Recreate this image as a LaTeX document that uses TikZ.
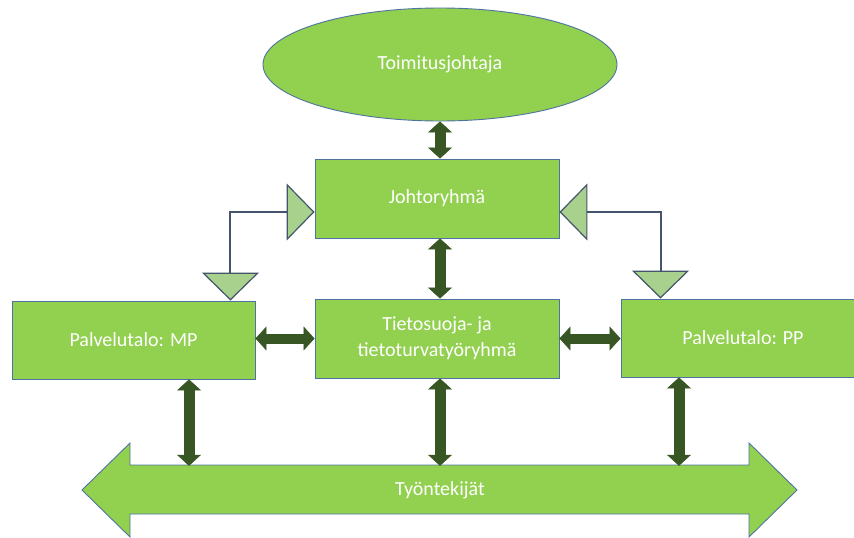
\documentclass[tikz,border=0pt]{standalone}
\usepackage{fontspec}
\setmainfont{Carlito}
\usetikzlibrary{arrows.meta,shapes.geometric,calc}
\definecolor{boxgreen}{HTML}{92D050}
\definecolor{boxedge}{HTML}{4F73A0}
\definecolor{darkarrow}{HTML}{375623}
\definecolor{trifill}{HTML}{A9D18E}
\definecolor{slate}{HTML}{44546A}
\begin{document}
\begin{tikzpicture}[x=1pt,y=-1pt,
  box/.style={rectangle, draw=boxedge, line width=0.9pt, fill=boxgreen, text=white,
    inner sep=0pt, minimum width=244pt, minimum height=79pt,
    font=\fontsize{20}{26}\selectfont, align=center},
  oval/.style={ellipse, draw=boxedge, line width=0.9pt, fill=boxgreen, text=white,
    inner sep=0pt, minimum width=354pt, minimum height=113pt,
    font=\fontsize{20}{26}\selectfont},
  dbl/.style={draw=darkarrow, line width=11pt, {Triangle[length=11pt,width=24pt,line width=0.5pt,fill=darkarrow]}-{Triangle[length=11pt,width=24pt,line width=0.5pt,fill=darkarrow]}},
  link/.style={draw=slate, line width=2pt, {Triangle[length=28pt,width=57pt,line width=1.2pt,fill=trifill]}-{Triangle[length=28pt,width=57pt,line width=1.2pt,fill=trifill]}},
  bigarrow/.style={draw=boxedge, line width=0.9pt, fill=boxgreen}
]
\useasboundingbox (0,0) rectangle (854,538);

% big double arrow (Työntekijät)
\draw[bigarrow] (82,490) -- (130,443) -- (130,465) -- (749,465) -- (749,443)
  -- (797,490) -- (749,537) -- (749,514) -- (130,514) -- (130,537) -- cycle;
\node[text=white, inner sep=0pt, minimum width=619pt, minimum height=49pt,
  font=\fontsize{20}{26}\selectfont] (tyo) at (440,490.5) {Työntekijät};

% nodes
\node[oval] (ell) at (440,64.5) {\raisebox{-3pt}{Toimitusjohtaja}};
\node[box] (joh) at (437,198.5) {Johtoryhmä};
\node[box] (tie) at (437,338.5) {Tietosuoja- ja\\tietoturvatyöryhmä};
\node[box, minimum width=243pt, minimum height=78pt] (mp) at (133.5,340) {Palvelutalo: MP};
\node[box, minimum height=78pt] (pp) at (743,338) {Palvelutalo: PP};

% helper coordinates
\coordinate (c1) at (189,0);
\coordinate (c2) at (440,0);
\coordinate (c3) at (679,0);
\coordinate (mpl) at ($(mp.north east)+(-25,0)$);
\coordinate (ppl) at ($(pp.north west)+(40,0)$);
\coordinate (jl) at ($(joh.west)+(0,13.5)$);
\coordinate (jr) at ($(joh.east)+(0,13.5)$);

% dark double arrows
\draw[dbl] (ell.south) -- (joh.north -| ell.south);
\draw[dbl] (joh.south -| ell.south) -- (tie.north -| ell.south);
\draw[dbl, line width=10pt] (mp.east |- tie.west) -- (tie.west);
\draw[dbl, line width=10pt] (tie.east) -- (pp.west |- tie.east);
\draw[dbl] (mp.south -| c1) -- (tyo.north -| c1);
\draw[dbl] (tie.south -| c2) -- (tyo.north -| c2);
\draw[dbl] (pp.south -| c3) -- (tyo.north -| c3);

% light triangle connectors
\draw[link] (mpl) |- (jl);
\draw[link] (ppl) |- (jr);
\end{tikzpicture}
\end{document}
